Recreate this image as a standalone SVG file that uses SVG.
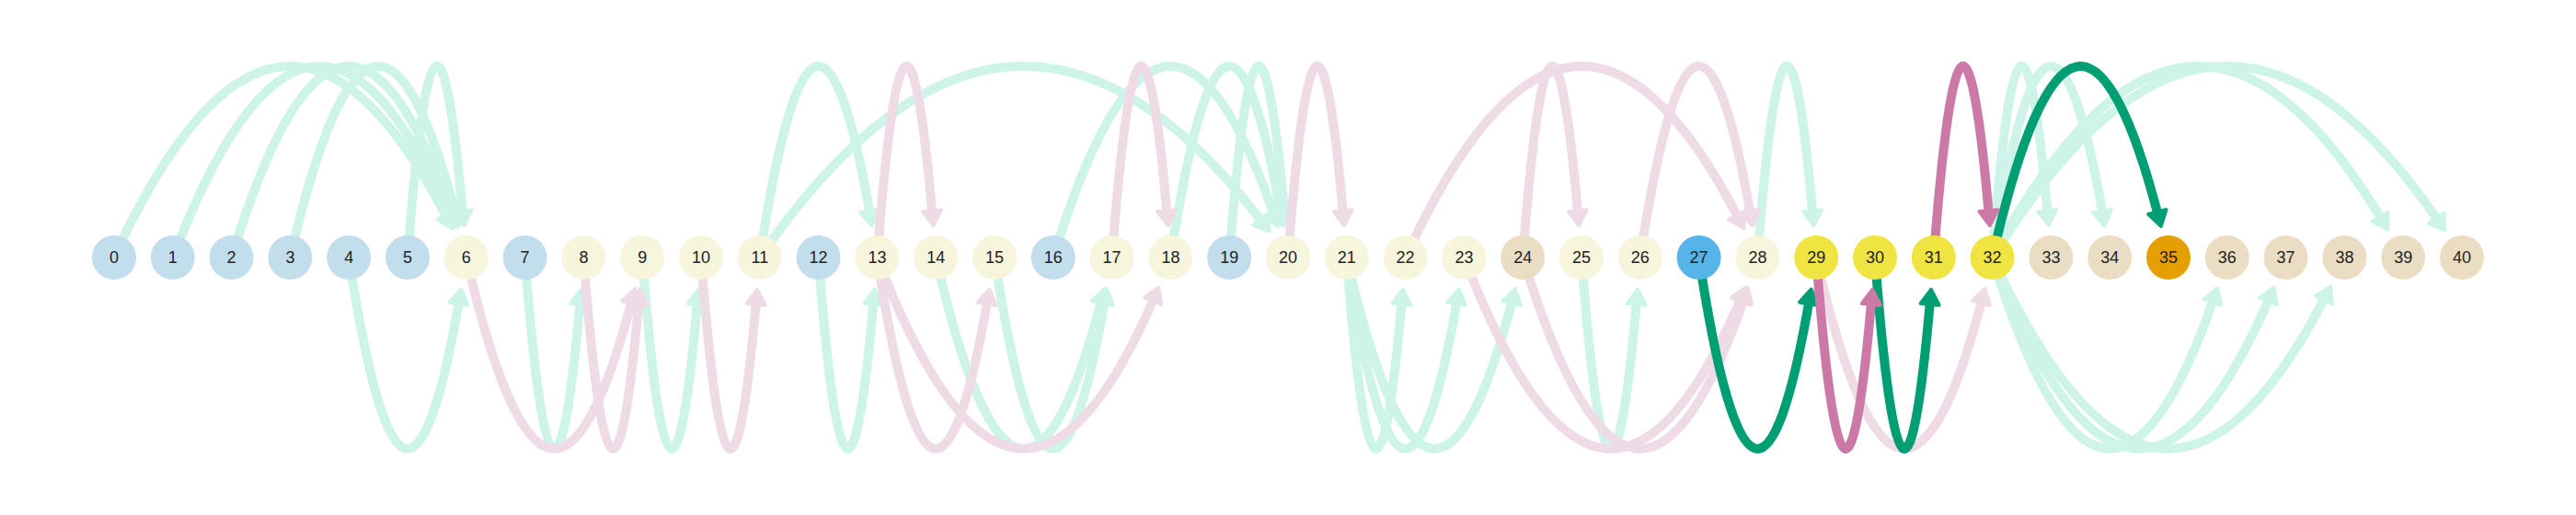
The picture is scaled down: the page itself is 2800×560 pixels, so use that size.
<svg xmlns="http://www.w3.org/2000/svg" width="2800" height="560" viewBox="0 0 2800 560">
<style>
.e{fill:none;stroke-width:10}
.lg{stroke:#CEF3E9;marker-end:url(#a-lg)}
.lp{stroke:#EFDBE6;marker-end:url(#a-lp)}
.dg{stroke:#009E73;marker-end:url(#a-dg)}
.dp{stroke:#CC79A7;marker-end:url(#a-dp)}
.node circle{stroke:none}
.b{fill:#C2DDEB}.y{fill:#F7F5DC}.t{fill:#EBDDC3}.s{fill:#56B4E9}.Y{fill:#F0E442}.o{fill:#E69F00}
text{font-family:"Liberation Sans",Arial,sans-serif;font-size:18px;fill:#222;text-anchor:middle}
</style>
<defs>
<marker id="a-lg" markerUnits="userSpaceOnUse" markerWidth="30" markerHeight="30" refX="11" refY="0" orient="auto" overflow="visible"><path d="M0,-10 L16,0 L0,10 Z" fill="#CEF3E9" stroke="#CEF3E9" stroke-width="4" stroke-linejoin="round"/></marker>
<marker id="a-lp" markerUnits="userSpaceOnUse" markerWidth="30" markerHeight="30" refX="11" refY="0" orient="auto" overflow="visible"><path d="M0,-10 L16,0 L0,10 Z" fill="#EFDBE6" stroke="#EFDBE6" stroke-width="4" stroke-linejoin="round"/></marker>
<marker id="a-dg" markerUnits="userSpaceOnUse" markerWidth="30" markerHeight="30" refX="11" refY="0" orient="auto" overflow="visible"><path d="M0,-10 L16,0 L0,10 Z" fill="#009E73" stroke="#009E73" stroke-width="4" stroke-linejoin="round"/></marker>
<marker id="a-dp" markerUnits="userSpaceOnUse" markerWidth="30" markerHeight="30" refX="11" refY="0" orient="auto" overflow="visible"><path d="M0,-10 L16,0 L0,10 Z" fill="#CC79A7" stroke="#CC79A7" stroke-width="4" stroke-linejoin="round"/></marker>
</defs>
<rect width="2800" height="560" fill="#fff"/>
<g id="connectors">
<path class="e lg" d="M124 280 Q306.71 -117.1 489.42 243.94"/>
<path class="e lg" d="M187.8 280 Q339.84 -116.5 491.87 242.88"/>
<path class="e lg" d="M251.6 280 Q373.08 -116 494.55 241.98"/>
<path class="e lg" d="M315.4 280 Q406.39 -115.5 497.38 241.07"/>
<path class="e lg" d="M443 280 Q473.29 -115 503.58 240.11"/>
<path class="e lg" d="M825.8 280 Q886.41 -115.2 947.02 240.48"/>
<path class="e lg" d="M825.8 280 Q1101.21 -119.1 1376.63 247.52"/>
<path class="e lg" d="M1144.8 280 Q1266.28 -116 1387.75 241.98"/>
<path class="e lg" d="M1272.4 280 Q1333.01 -115.2 1393.62 240.48"/>
<path class="e lg" d="M1336.2 280 Q1366.49 -115 1396.78 240.11"/>
<path class="e lg" d="M1910.4 280 Q1940.69 -115 1970.98 240.11"/>
<path class="e lg" d="M2165.6 280 Q2195.89 -115 2226.18 240.11"/>
<path class="e lg" d="M2165.6 280 Q2226.21 -115.2 2286.82 240.48"/>
<path class="e lg" d="M2165.6 280 Q2379.12 -117.8 2592.64 245.15"/>
<path class="e lg" d="M2165.6 280 Q2410.01 -118.4 2654.41 246.3"/>
<path class="e lg" d="M379.2 280 Q439.81 675.2 500.42 319.52"/>
<path class="e lg" d="M570.6 280 Q600.89 675 631.18 319.89"/>
<path class="e lg" d="M698.2 280 Q728.49 675 758.78 319.89"/>
<path class="e lg" d="M889.6 280 Q919.89 675 950.18 319.89"/>
<path class="e lg" d="M1017.2 280 Q1108.19 675.5 1199.18 318.93"/>
<path class="e lg" d="M1081 280 Q1141.61 675.2 1202.22 319.52"/>
<path class="e lg" d="M1463.8 280 Q1494.09 675 1524.38 319.89"/>
<path class="e lg" d="M1463.8 280 Q1524.41 675.2 1585.02 319.52"/>
<path class="e lg" d="M1463.8 280 Q1554.79 675.5 1645.78 318.93"/>
<path class="e lg" d="M1719 280 Q1749.29 675 1779.58 319.89"/>
<path class="e lg" d="M2165.6 280 Q2287.08 676 2408.55 318.02"/>
<path class="e lg" d="M2165.6 280 Q2317.64 676.5 2469.67 317.12"/>
<path class="e lg" d="M2165.6 280 Q2348.31 677.1 2531.02 316.06"/>
<path class="e lp" d="M953.4 280 Q983.69 -115 1013.98 240.11"/>
<path class="e lp" d="M1208.6 280 Q1238.89 -115 1269.18 240.11"/>
<path class="e lp" d="M1400 280 Q1430.29 -115 1460.58 240.11"/>
<path class="e lp" d="M1527.6 280 Q1710.31 -117.1 1893.02 243.94"/>
<path class="e lp" d="M1655.2 280 Q1685.49 -115 1715.78 240.11"/>
<path class="e lp" d="M1782.8 280 Q1843.41 -115.2 1904.02 240.48"/>
<path class="e lp" d="M506.8 280 Q597.79 675.5 688.78 318.93"/>
<path class="e lp" d="M634.4 280 Q664.69 675 694.98 319.89"/>
<path class="e lp" d="M762 280 Q792.29 675 822.58 319.89"/>
<path class="e lp" d="M953.4 280 Q1014.01 675.2 1074.62 319.52"/>
<path class="e lp" d="M953.4 280 Q1105.44 676.5 1257.47 317.12"/>
<path class="e lp" d="M1591.4 280 Q1743.44 676.5 1895.47 317.12"/>
<path class="e lp" d="M1655.2 280 Q1776.68 676 1898.15 318.02"/>
<path class="e lp" d="M1974.2 280 Q2065.19 675.5 2156.18 318.93"/>
<path class="e dg" d="M2165.6 280 Q2256.59 -115.5 2347.58 241.07"/>
<path class="e dg" d="M1846.6 280 Q1907.21 675.2 1967.82 319.52"/>
<path class="e dg" d="M2038 280 Q2068.29 675 2098.58 319.89"/>
<path class="e dp" d="M2101.8 280 Q2132.09 -115 2162.38 240.11"/>
<path class="e dp" d="M1974.2 280 Q2004.49 675 2034.78 319.89"/>
</g>
<g id="nodes">
<g id="n0" class="node"><circle class="b" cx="124" cy="280" r="24"/><text x="124" y="286">0</text></g>
<g id="n1" class="node"><circle class="b" cx="187.8" cy="280" r="24"/><text x="187.8" y="286">1</text></g>
<g id="n2" class="node"><circle class="b" cx="251.6" cy="280" r="24"/><text x="251.6" y="286">2</text></g>
<g id="n3" class="node"><circle class="b" cx="315.4" cy="280" r="24"/><text x="315.4" y="286">3</text></g>
<g id="n4" class="node"><circle class="b" cx="379.2" cy="280" r="24"/><text x="379.2" y="286">4</text></g>
<g id="n5" class="node"><circle class="b" cx="443" cy="280" r="24"/><text x="443" y="286">5</text></g>
<g id="n6" class="node"><circle class="y" cx="506.8" cy="280" r="24"/><text x="506.8" y="286">6</text></g>
<g id="n7" class="node"><circle class="b" cx="570.6" cy="280" r="24"/><text x="570.6" y="286">7</text></g>
<g id="n8" class="node"><circle class="y" cx="634.4" cy="280" r="24"/><text x="634.4" y="286">8</text></g>
<g id="n9" class="node"><circle class="y" cx="698.2" cy="280" r="24"/><text x="698.2" y="286">9</text></g>
<g id="n10" class="node"><circle class="y" cx="762" cy="280" r="24"/><text x="762" y="286">10</text></g>
<g id="n11" class="node"><circle class="y" cx="825.8" cy="280" r="24"/><text x="825.8" y="286">11</text></g>
<g id="n12" class="node"><circle class="b" cx="889.6" cy="280" r="24"/><text x="889.6" y="286">12</text></g>
<g id="n13" class="node"><circle class="y" cx="953.4" cy="280" r="24"/><text x="953.4" y="286">13</text></g>
<g id="n14" class="node"><circle class="y" cx="1017.2" cy="280" r="24"/><text x="1017.2" y="286">14</text></g>
<g id="n15" class="node"><circle class="y" cx="1081" cy="280" r="24"/><text x="1081" y="286">15</text></g>
<g id="n16" class="node"><circle class="b" cx="1144.8" cy="280" r="24"/><text x="1144.8" y="286">16</text></g>
<g id="n17" class="node"><circle class="y" cx="1208.6" cy="280" r="24"/><text x="1208.6" y="286">17</text></g>
<g id="n18" class="node"><circle class="y" cx="1272.4" cy="280" r="24"/><text x="1272.4" y="286">18</text></g>
<g id="n19" class="node"><circle class="b" cx="1336.2" cy="280" r="24"/><text x="1336.2" y="286">19</text></g>
<g id="n20" class="node"><circle class="y" cx="1400" cy="280" r="24"/><text x="1400" y="286">20</text></g>
<g id="n21" class="node"><circle class="y" cx="1463.8" cy="280" r="24"/><text x="1463.8" y="286">21</text></g>
<g id="n22" class="node"><circle class="y" cx="1527.6" cy="280" r="24"/><text x="1527.6" y="286">22</text></g>
<g id="n23" class="node"><circle class="y" cx="1591.4" cy="280" r="24"/><text x="1591.4" y="286">23</text></g>
<g id="n24" class="node"><circle class="t" cx="1655.2" cy="280" r="24"/><text x="1655.2" y="286">24</text></g>
<g id="n25" class="node"><circle class="y" cx="1719" cy="280" r="24"/><text x="1719" y="286">25</text></g>
<g id="n26" class="node"><circle class="y" cx="1782.8" cy="280" r="24"/><text x="1782.8" y="286">26</text></g>
<g id="n27" class="node"><circle class="s" cx="1846.6" cy="280" r="24"/><text x="1846.6" y="286">27</text></g>
<g id="n28" class="node"><circle class="y" cx="1910.4" cy="280" r="24"/><text x="1910.4" y="286">28</text></g>
<g id="n29" class="node"><circle class="Y" cx="1974.2" cy="280" r="24"/><text x="1974.2" y="286">29</text></g>
<g id="n30" class="node"><circle class="Y" cx="2038" cy="280" r="24"/><text x="2038" y="286">30</text></g>
<g id="n31" class="node"><circle class="Y" cx="2101.8" cy="280" r="24"/><text x="2101.8" y="286">31</text></g>
<g id="n32" class="node"><circle class="Y" cx="2165.6" cy="280" r="24"/><text x="2165.6" y="286">32</text></g>
<g id="n33" class="node"><circle class="t" cx="2229.4" cy="280" r="24"/><text x="2229.4" y="286">33</text></g>
<g id="n34" class="node"><circle class="t" cx="2293.2" cy="280" r="24"/><text x="2293.2" y="286">34</text></g>
<g id="n35" class="node"><circle class="o" cx="2357" cy="280" r="24"/><text x="2357" y="286">35</text></g>
<g id="n36" class="node"><circle class="t" cx="2420.8" cy="280" r="24"/><text x="2420.8" y="286">36</text></g>
<g id="n37" class="node"><circle class="t" cx="2484.6" cy="280" r="24"/><text x="2484.6" y="286">37</text></g>
<g id="n38" class="node"><circle class="t" cx="2548.4" cy="280" r="24"/><text x="2548.4" y="286">38</text></g>
<g id="n39" class="node"><circle class="t" cx="2612.2" cy="280" r="24"/><text x="2612.2" y="286">39</text></g>
<g id="n40" class="node"><circle class="t" cx="2676" cy="280" r="24"/><text x="2676" y="286">40</text></g>
</g>
</svg>
